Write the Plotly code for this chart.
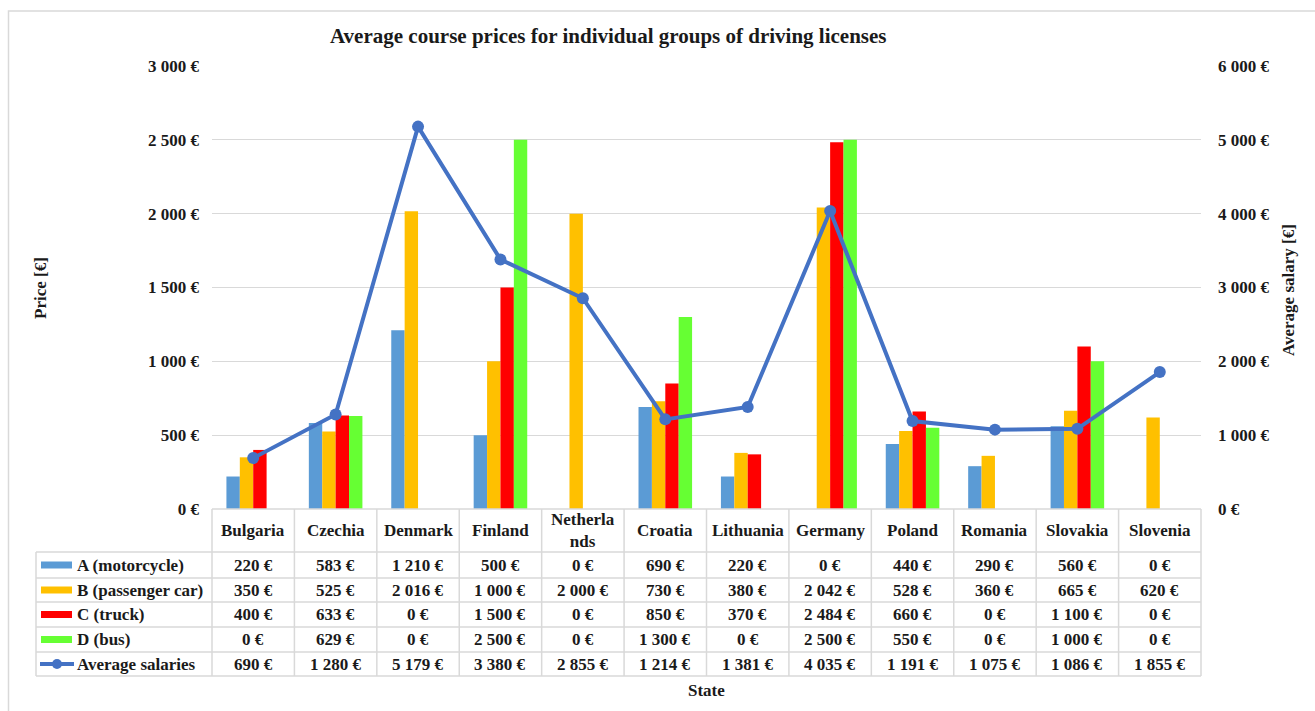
import plotly.graph_objects as go

states = ["Bulgaria", "Czechia", "Denmark", "Finland", "Netherlands", "Croatia",
          "Lithuania", "Germany", "Poland", "Romania", "Slovakia", "Slovenia"]
state_labels = ["Bulgaria", "Czechia", "Denmark", "Finland", "Netherla<br>nds", "Croatia",
                "Lithuania", "Germany", "Poland", "Romania", "Slovakia", "Slovenia"]
a_motorcycle = [220, 583, 1210, 500, 0, 690, 220, 0, 440, 290, 560, 0]
b_passenger = [350, 525, 2016, 1000, 2000, 730, 380, 2042, 528, 360, 665, 620]
c_truck = [400, 633, 0, 1500, 0, 850, 370, 2484, 660, 0, 1100, 0]
d_bus = [0, 629, 0, 2500, 0, 1300, 0, 2500, 550, 0, 1000, 0]
avg_salaries = [690, 1280, 5179, 3380, 2855, 1214, 1381, 4035, 1191, 1075, 1086, 1855]

series_names = ["A (motorcycle)", "B (passenger car)", "C (truck)", "D (bus)", "Average salaries"]
bar_series = [a_motorcycle, b_passenger, c_truck, d_bus]
bar_colors = ["#5B9BD5", "#FFC000", "#FF0000", "#66FF33"]
line_color = "#4472C4"

FONT = "Liberation Serif"
W, H = 1315, 711
L, R, T, B = 212, 1201, 66, 509


def px(x):
    return (x - L) / (R - L)


def py(y):
    return (B - y) / (B - T)


def eur(v):
    return f"{v:,}".replace(",", " ") + " €"


fig = go.Figure()
for name, vals, col in zip(series_names[:4], bar_series, bar_colors):
    fig.add_trace(go.Bar(x=states, y=vals, name=name, marker=dict(color=col, line=dict(width=0)),
                         showlegend=False, hoverinfo="skip"))
fig.add_trace(go.Scatter(x=states, y=avg_salaries, name=series_names[4], yaxis="y2", mode="lines+markers",
                         line=dict(color=line_color, width=4), marker=dict(size=12, color=line_color),
                         showlegend=False, hoverinfo="skip"))

grid = "#D9D9D9"
txt = "#1a1a1a"
tickfont = dict(family=FONT, size=17, color=txt, weight="bold")
fig.update_layout(
    width=W, height=H,
    margin=dict(l=L, r=W - R, t=T, b=H - B),
    paper_bgcolor="white", plot_bgcolor="white",
    barmode="group", bargap=0.35, bargroupgap=0,
    separators=", ",
    showlegend=False,
    xaxis=dict(showticklabels=False, showgrid=False, zeroline=False, showline=False,
               range=[-0.5, len(states) - 0.5], fixedrange=True),
    yaxis=dict(range=[0, 3000], dtick=500, tickformat=",d", ticksuffix=" €", showgrid=True,
               gridcolor=grid, gridwidth=1, zeroline=False, showline=False, tickfont=tickfont,
               ticklabelstandoff=12),
    yaxis2=dict(range=[0, 6000], dtick=1000, tickformat=",d", ticksuffix=" €", overlaying="y",
                side="right", showgrid=False, zeroline=False, showline=False, tickfont=tickfont,
                ticklabelstandoff=16),
)

shapes = []
ann = []
lc = dict(color=grid, width=1.5)
# outer chart border
shapes.append(dict(type="rect", xref="paper", yref="paper", x0=px(8.5), x1=px(1330), y0=py(730), y1=py(11),
                   line=dict(color=grid, width=1.5), fillcolor="rgba(0,0,0,0)", layer="below"))
# data table lines
row_edges = [552, 578, 602, 627, 652, 676]
n = len(states)
shapes.append(dict(type="line", xref="paper", yref="paper", x0=0, x1=1, y0=py(B), y1=py(B), line=lc))
for ye in row_edges:
    shapes.append(dict(type="line", xref="paper", yref="paper", x0=px(36), x1=1, y0=py(ye), y1=py(ye), line=lc))
shapes.append(dict(type="line", xref="paper", yref="paper", x0=px(36), x1=px(36), y0=py(552), y1=py(676), line=lc))
for k in range(n + 1):
    shapes.append(dict(type="line", xref="paper", yref="paper", x0=k / n, x1=k / n, y0=py(B), y1=py(676), line=lc))

cellfont = dict(family=FONT, size=17, color=txt)
# header
for s, lab in zip(states, state_labels):
    ann.append(dict(x=s, xref="x", y=py(530.5), yref="paper", text=f"<b>{lab}</b>", showarrow=False,
                    font=cellfont, xanchor="center", yanchor="middle"))
row_centers = [565, 590, 614.5, 639.5, 664]
all_series = bar_series + [avg_salaries]
for rc, vals in zip(row_centers, all_series):
    for s, v in zip(states, vals):
        ann.append(dict(x=s, xref="x", y=py(rc), yref="paper", text=f"<b>{eur(v)}</b>", showarrow=False,
                        font=cellfont, xanchor="center", yanchor="middle"))
# legend column
for i, (rc, name) in enumerate(zip(row_centers, series_names)):
    ann.append(dict(x=px(75), xref="paper", y=py(rc), yref="paper", text=f"<b>{name}</b>", showarrow=False,
                    font=cellfont, xanchor="left", yanchor="middle"))
    if i < 4:
        shapes.append(dict(type="rect", xref="paper", yref="paper", x0=px(41), x1=px(72),
                           y0=py(rc + 3.5), y1=py(rc - 3.5), fillcolor=bar_colors[i], line=dict(width=0)))
    else:
        shapes.append(dict(type="line", xref="paper", yref="paper", x0=px(40), x1=px(74),
                           y0=py(rc), y1=py(rc), line=dict(color=line_color, width=4)))
        shapes.append(dict(type="circle", xref="paper", yref="paper", x0=px(52), x1=px(62),
                           y0=py(rc + 5), y1=py(rc - 5), fillcolor=line_color, line=dict(width=0)))

# titles
ann.append(dict(x=px(608), xref="paper", y=py(36), yref="paper", showarrow=False,
                text="<b>Average course prices for individual groups of driving licenses</b>",
                font=dict(family=FONT, size=21, color=txt), xanchor="center", yanchor="middle"))
ann.append(dict(x=px(40), xref="paper", y=py(288), yref="paper", showarrow=False, textangle=-90,
                text="<b>Price [€]</b>", font=dict(family=FONT, size=17, color=txt),
                xanchor="center", yanchor="middle"))
ann.append(dict(x=px(1288), xref="paper", y=py(290), yref="paper", showarrow=False, textangle=-90,
                text="<b>Average salary [€]</b>", font=dict(family=FONT, size=17, color=txt),
                xanchor="center", yanchor="middle"))
ann.append(dict(x=px(706), xref="paper", y=py(690), yref="paper", showarrow=False,
                text="<b>State</b>", font=dict(family=FONT, size=17, color=txt),
                xanchor="center", yanchor="middle"))

fig.update_layout(shapes=shapes, annotations=ann)
fig.write_html("out.html")
